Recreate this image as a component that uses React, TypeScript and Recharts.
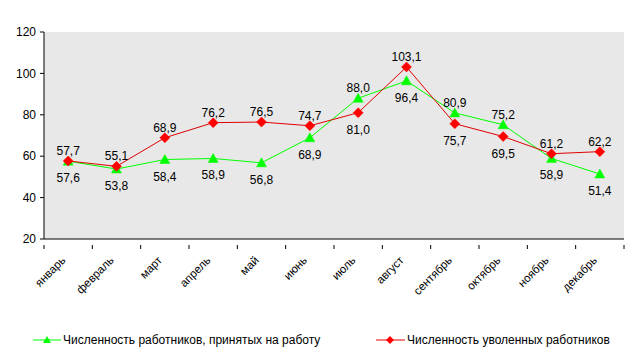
import React from 'react';
import { LineChart, Line, XAxis, YAxis, Legend, CartesianGrid } from 'recharts';

const months = ['январь', 'февраль', 'март', 'апрель', 'май', 'июнь', 'июль', 'август', 'сентябрь', 'октябрь', 'ноябрь', 'декабрь'];
const hired = [57.6, 53.8, 58.4, 58.9, 56.8, 68.9, 88.0, 96.4, 80.9, 75.2, 58.9, 51.4];
const dismissed = [57.7, 55.1, 68.9, 76.2, 76.5, 74.7, 81.0, 103.1, 75.7, 69.5, 61.2, 62.2];
const yTicks = [20, 40, 60, 80, 100, 120];
const hiredName = 'Численность работников, принятых на работу';
const dismissedName = 'Численность уволенных работников';

const data = months.map((m, i) => ({ month: m, hired: hired[i], dismissed: dismissed[i] }));

const FONT = '"Liberation Sans", Arial, sans-serif';
const W = 635;
const H = 354;
const M = { top: 32, right: 11, left: 0, bottom: 4 };
const Y_W = 44;
const BAND = (W - M.right - Y_W) / months.length;
const GREEN = '#00FF00';
const RED = '#FF0000';
const RED_LINE = '#E00000';
const PLOT_BG = '#E8E8E8';

const fmt = (v: number) => v.toFixed(1).replace('.', ',');

const Triangle = (props: any) => {
  const { cx, cy } = props;
  if (cx == null || cy == null) return null;
  return <path d={`M${cx},${cy - 5} L${cx + 5},${cy + 4} L${cx - 5},${cy + 4} Z`} fill={GREEN} stroke={GREEN} strokeWidth={0.5} />;
};

const Diamond = (props: any) => {
  const { cx, cy } = props;
  if (cx == null || cy == null) return null;
  return <path d={`M${cx},${cy - 5} L${cx + 5},${cy} L${cx},${cy + 5} L${cx - 5},${cy} Z`} fill={RED} stroke={RED} strokeWidth={0.5} />;
};

const makeLabel = (own: number[], other: number[]) => (props: any) => {
  const { x, y, index, value } = props;
  if (x == null || y == null) return null;
  const above = own[index] > other[index];
  return (
    <text x={x} y={above ? y - 6 : y + 21} textAnchor="middle" fontSize={12} fontFamily={FONT} fill="#000">
      {fmt(Number(value))}
    </text>
  );
};

const XTick = (props: any) => {
  const { x, y, payload, index } = props;
  const idx = payload?.index ?? index;
  const axisY = y - 2;
  return (
    <g>
      <line x1={x - BAND / 2} y1={axisY} x2={x - BAND / 2} y2={axisY + 4} stroke="#000" />
      {idx === months.length - 1 && <line x1={x + BAND / 2} y1={axisY} x2={x + BAND / 2} y2={axisY + 4} stroke="#000" />}
      <text
        x={x - 2}
        y={axisY + 16}
        textAnchor="end"
        fontSize={11.5}
        fontFamily={FONT}
        fill="#000"
        transform={`rotate(-45 ${x - 2} ${axisY + 16})`}
      >
        {payload.value}
      </text>
    </g>
  );
};

const LegendContent = () => (
  <div style={{ position: 'relative', width: W, height: 20, fontFamily: FONT, fontSize: 12 }}>
    <svg width={W} height={20} style={{ position: 'absolute', left: 0, top: 0 }}>
      <line x1={33} y1={10} x2={61} y2={10} stroke={GREEN} strokeWidth={1} />
      <path d="M47,6 L51,13 L43,13 Z" fill={GREEN} />
      <text x={63} y={14} fontSize={12} fontFamily={FONT} fill="#000">{hiredName}</text>
      <line x1={376} y1={10} x2={405} y2={10} stroke={RED_LINE} strokeWidth={1} />
      <path d="M390,6 L394,10 L390,14 L386,10 Z" fill={RED} />
      <text x={407} y={14} fontSize={12} fontFamily={FONT} fill="#000">{dismissedName}</text>
    </svg>
  </div>
);

export default function App() {
  return (
    <div style={{ position: 'absolute', left: 0, top: 0, width: W, height: H, background: '#fff' }}>
      <LineChart width={W} height={H} data={data} margin={M}>
        <CartesianGrid horizontal={false} vertical={false} fill={PLOT_BG} stroke="none" />
        <XAxis
          dataKey="month"
          scale="band"
          tick={<XTick />}
          tickLine={false}
          axisLine={{ stroke: '#000' }}
          height={91}
          interval={0}
        />
        <YAxis
          domain={[20, 120]}
          ticks={yTicks}
          width={Y_W}
          tickSize={4}
          tickMargin={4}
          axisLine={{ stroke: '#000' }}
          tickLine={{ stroke: '#000' }}
          tick={{ fontSize: 12, fontFamily: FONT, fill: '#000' }}
          allowDataOverflow
        />
        <Legend verticalAlign="bottom" height={20} content={<LegendContent />} />
        <Line
          dataKey="hired"
          name={hiredName}
          stroke={GREEN}
          strokeWidth={1}
          dot={<Triangle />}
          activeDot={false}
          isAnimationActive={false}
          label={makeLabel(hired, dismissed)}
        />
        <Line
          dataKey="dismissed"
          name={dismissedName}
          stroke={RED_LINE}
          strokeWidth={1}
          dot={<Diamond />}
          activeDot={false}
          isAnimationActive={false}
          label={makeLabel(dismissed, hired)}
        />
      </LineChart>
    </div>
  );
}
